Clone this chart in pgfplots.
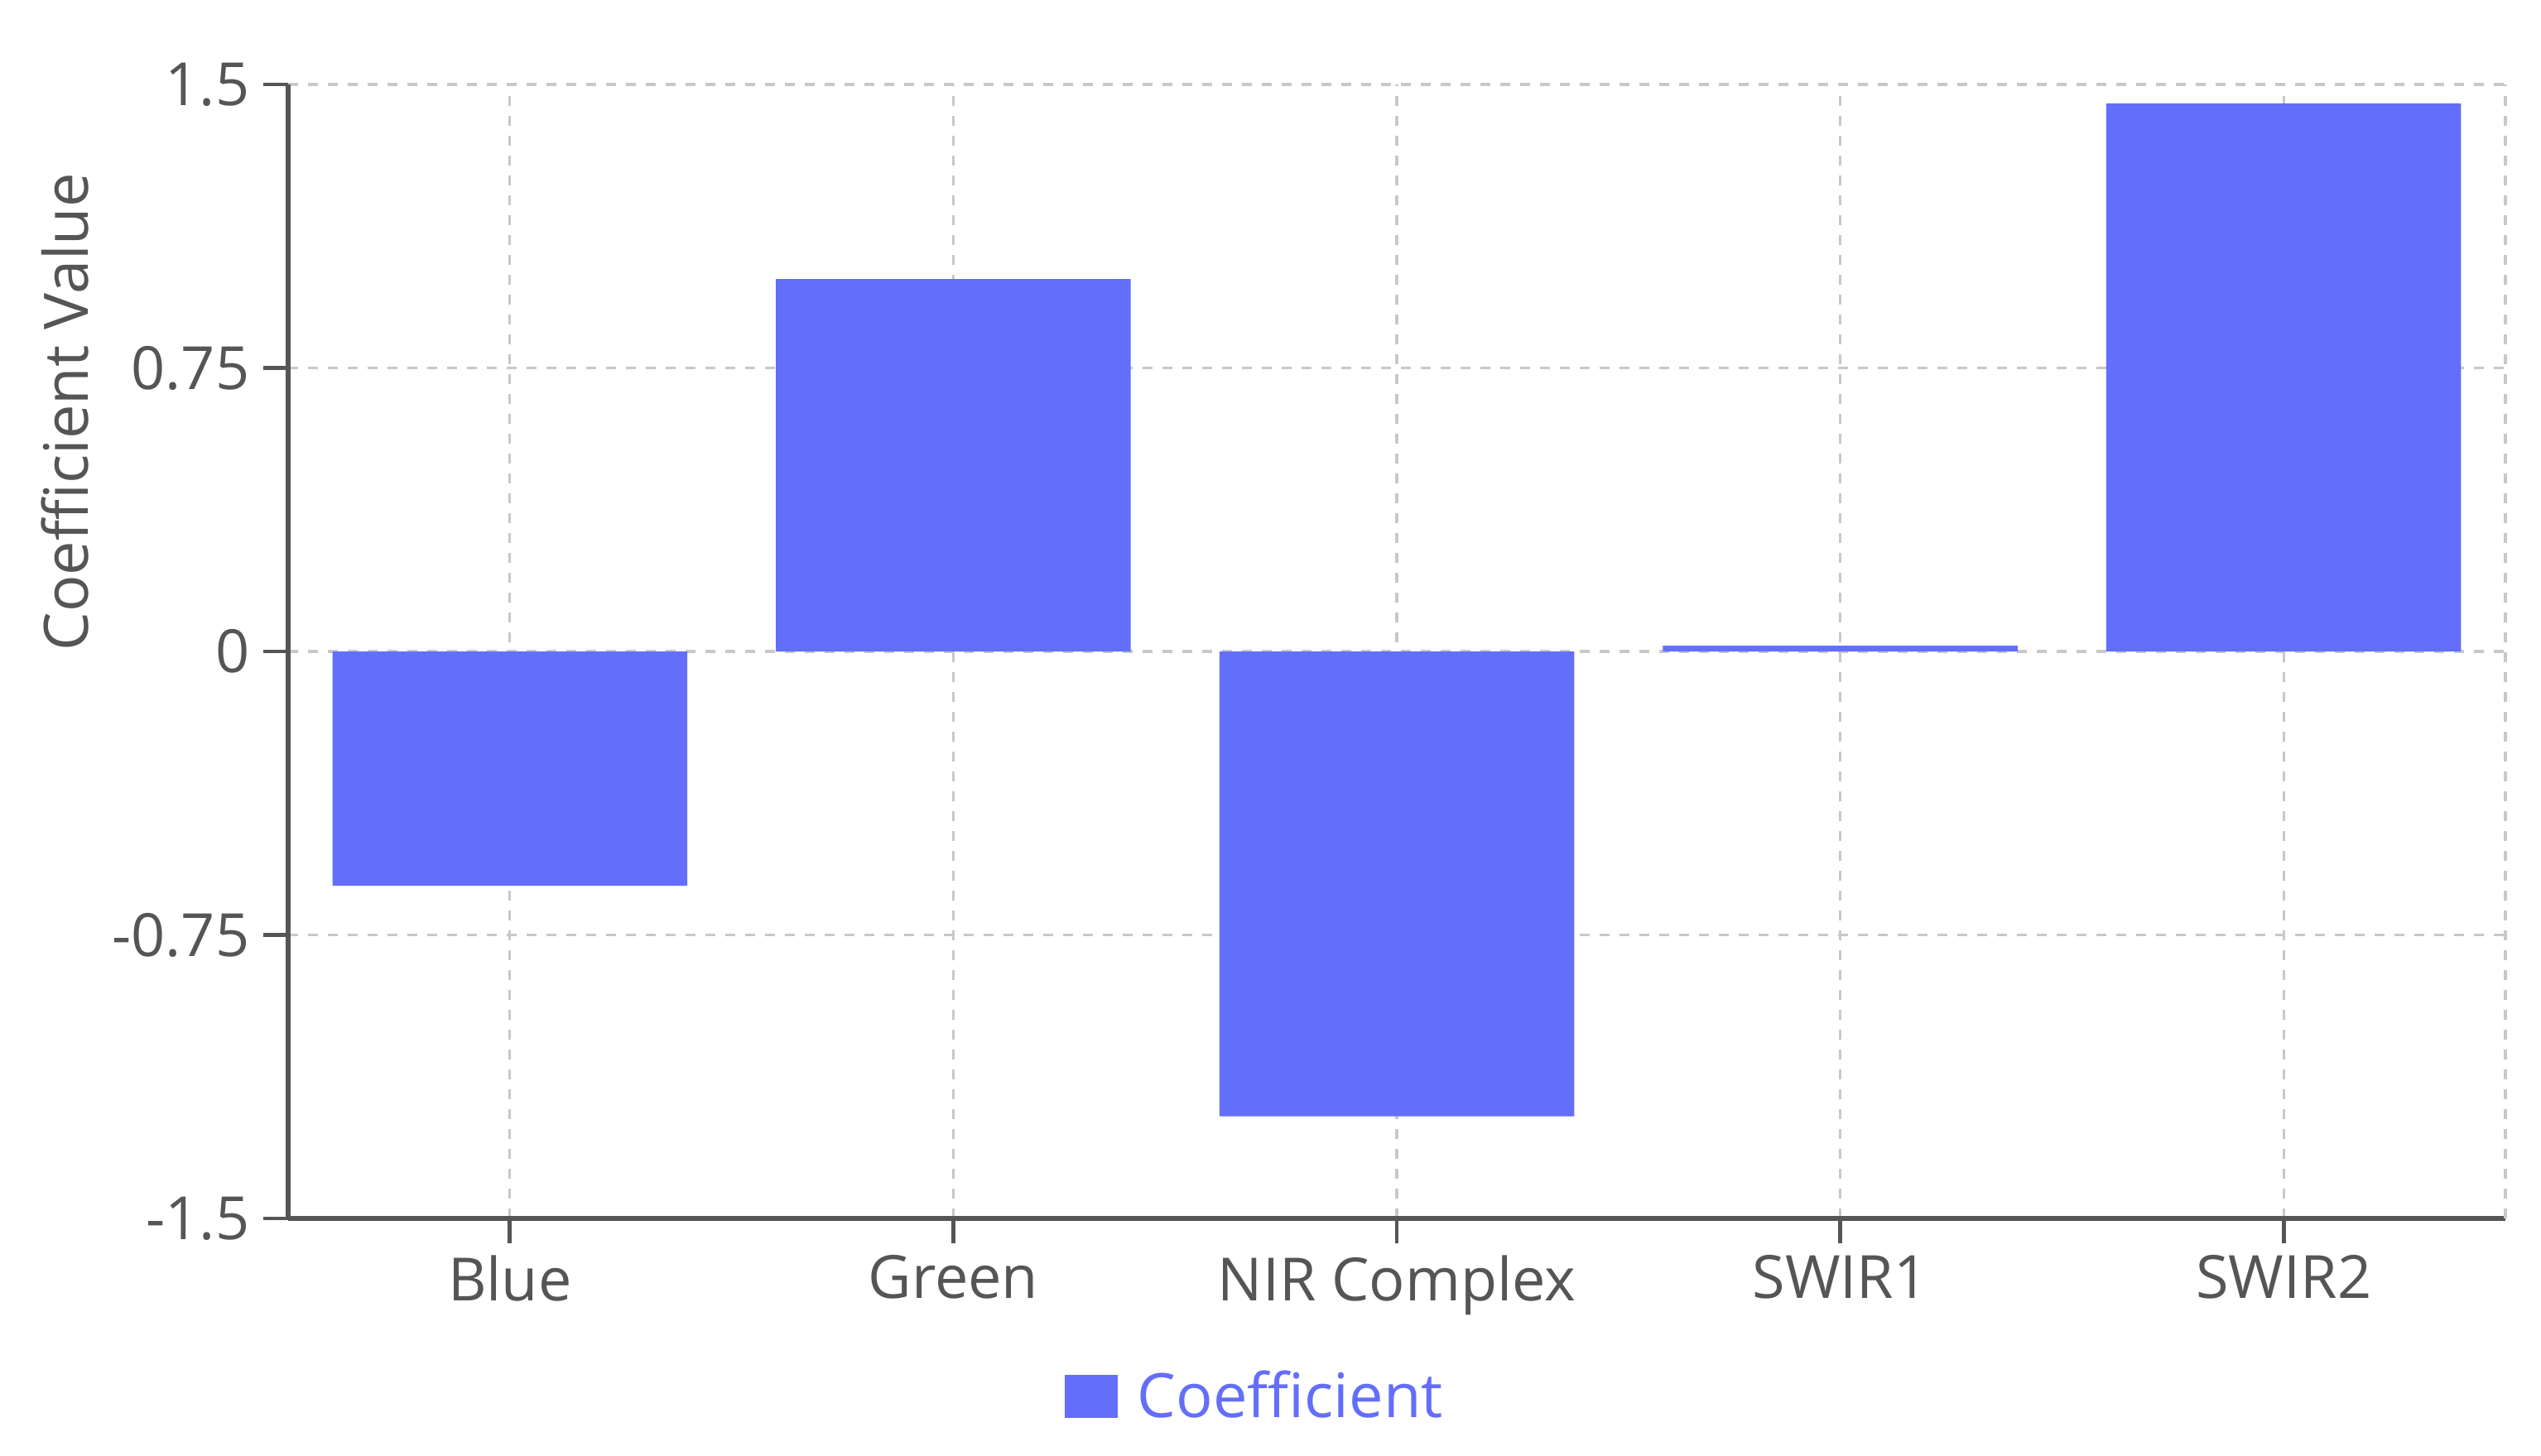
\documentclass[border=0pt]{standalone}
\usepackage{fontspec}
\setmainfont{Open Sans}
\usepackage{pgfplots}
\pgfplotsset{compat=1.18}
\definecolor{barblue}{HTML}{636EFA}
\definecolor{txt}{HTML}{555555}
\definecolor{axl}{HTML}{555555}
\definecolor{grd}{HTML}{C8C8C8}
\begin{document}
\begin{tikzpicture}
\begin{axis}[
 name=ax,
 scale only axis, width=669.5pt, height=342.5pt,
 xmin=-0.5, xmax=4.5, ymin=-1.5, ymax=1.5,
 axis lines=left, axis line style={-, draw=axl, line width=1.5pt},
 xtick={0,1,2,3,4}, xticklabels={Blue,Green,NIR Complex,SWIR1,SWIR2},
 ytick={-1.5,-0.75,0,0.75,1.5}, yticklabels={-1.5,-0.75,0,0.75,1.5},
 tick align=outside, major tick length=7.5pt,
 tick style={draw=axl, line width=1.2pt},
 grid=major, grid style={draw=grd, line width=0.8pt, dash pattern=on 3pt off 3pt},
 extra x ticks={4.5}, extra x tick labels={}, extra x tick style={major tick length=0pt, grid=major},
 ticklabel style={font=\fontsize{18}{22}\selectfont, text=txt},
 yticklabel style={inner sep=0pt, xshift=-4pt},
 xticklabel style={inner sep=0pt, yshift=-3.5pt},
 ylabel={Coefficient Value},
 ylabel style={at={(axis description cs:-0.1008,0.711)}, anchor=center, font=\fontsize{18.5}{22}\selectfont, text=txt},
 legend style={at={(axis description cs:0.437,-0.157)}, anchor=center, draw=none, fill=none, font=\fontsize{18.5}{22}\selectfont, text=barblue, inner sep=0pt, /tikz/every odd column/.append style={column sep=4pt}},
 clip=false,
]
\addplot[ybar, bar width=0.8, fill=barblue, draw=none, legend image code/.code={\fill[barblue] (0pt,-6.5pt) rectangle (16pt,6.5pt);}] coordinates {(0,-0.62) (1,0.985) (2,-1.23) (3,0.015) (4,1.45)};
\addlegendentry{Coefficient}
\end{axis}
\path (ax.south west) ++(-87pt,-71.5pt) rectangle ++(767.25pt,439.5pt);
\end{tikzpicture}
\end{document}
